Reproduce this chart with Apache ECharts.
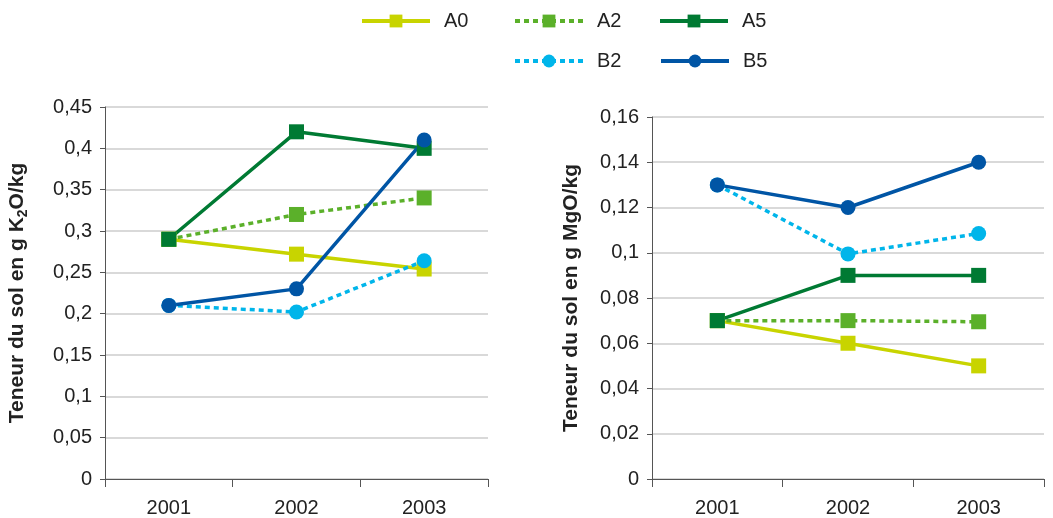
<!DOCTYPE html>
<html><head><meta charset="utf-8">
<script src="https://cdn.jsdelivr.net/npm/echarts@6/dist/echarts.min.js"></script>
<style>html,body{margin:0;padding:0;background:#fff}#c{width:1053px;height:518px}</style>
</head><body><div id="c"></div>
<script>
const years = ['2001', '2002', '2003'];
const seriesNames = ['A0', 'A2', 'A5', 'B2', 'B5'];
// K2O (left chart)
const k2oA0 = [0.29, 0.272, 0.254];
const k2oA2 = [0.29, 0.32, 0.34];
const k2oA5 = [0.29, 0.42, 0.40];
const k2oB2 = [0.21, 0.202, 0.264];
const k2oB5 = [0.21, 0.23, 0.41];
// MgO (right chart)
const mgoA0 = [0.07, 0.06, 0.05];
const mgoA2 = [0.07, 0.07, 0.0695];
const mgoA5 = [0.07, 0.09, 0.09];
const mgoB2 = [0.13, 0.0995, 0.1085];
const mgoB5 = [0.13, 0.12, 0.14];

const styles = {
  A0: {color: '#c8d400', symbol: 'rect', dash: 'solid'},
  A2: {color: '#5bb02a', symbol: 'rect', dash: [5, 4]},
  A5: {color: '#007a33', symbol: 'rect', dash: 'solid'},
  B2: {color: '#00b5ea', symbol: 'circle', dash: [5, 4]},
  B5: {color: '#0055a5', symbol: 'circle', dash: 'solid'}
};
const k2o = {A0: k2oA0, A2: k2oA2, A5: k2oA5, B2: k2oB2, B5: k2oB5};
const mgo = {A0: mgoA0, A2: mgoA2, A5: mgoA5, B2: mgoB2, B5: mgoB5};

function mk(name, data, idx) {
  const s = styles[name];
  return {
    name, type: 'line', xAxisIndex: idx, yAxisIndex: idx, data,
    symbol: s.symbol, symbolSize: 15,
    itemStyle: {color: s.color},
    lineStyle: {color: s.color, width: 3.5, type: s.dash},
    animation: false
  };
}
const series = [];
seriesNames.forEach(n => series.push(mk(n, k2o[n], 0)));
seriesNames.forEach(n => series.push(mk(n, mgo[n], 1)));

const FF = 'Liberation Sans, Arial, sans-serif';
const fmt = v => (+v.toFixed(2)).toString().replace('.', ',');
const txt = '#222';
function xAx(gi) {
  return {
    type: 'category', gridIndex: gi, data: years, boundaryGap: true,
    axisLine: {lineStyle: {color: '#555', width: 1}},
    axisTick: {show: true, length: 8, lineStyle: {color: '#555'}},
    axisLabel: {color: txt, fontSize: 20, margin: 19, fontFamily: FF}
  };
}
const nameRich = {
  a: {fontSize: 21, fontWeight: 'bold', color: txt, fontFamily: FF, lineHeight: 26, verticalAlign: 'middle'},
  s: {fontSize: 14, fontWeight: 'bold', color: txt, fontFamily: FF, lineHeight: 26, verticalAlign: 'bottom'}
};
function yAx(gi, max, interval, name, gap) {
  return {
    type: 'value', gridIndex: gi, min: 0, max, interval,
    name, nameLocation: 'middle', nameRotate: 90, nameGap: gap,
    nameTextStyle: {color: txt, fontSize: 21, fontWeight: 'bold', fontFamily: FF, rich: nameRich},
    axisLine: {show: true, lineStyle: {color: '#555', width: 1}},
    axisTick: {show: true, length: 5, lineStyle: {color: '#555'}},
    axisLabel: {color: txt, fontSize: 20, margin: 13, formatter: fmt, fontFamily: FF},
    splitLine: {lineStyle: {color: '#d9d9d9', width: 2}}
  };
}
function leg(name, left, top) {
  return {
    data: [name], left, top, padding: 0, itemWidth: 68, itemHeight: 16, itemGap: 0,
    lineStyle: {width: 4},
    textStyle: {color: txt, fontSize: 20, fontFamily: FF, padding: [0, 0, 0, 9]}
  };
}
const chart = echarts.init(document.getElementById('c'), null, {renderer: 'canvas'});
chart.setOption({
  backgroundColor: '#fff',
  animation: false,
  legend: [
    leg('A0', 360, 11), leg('A2', 513, 11), leg('A5', 658, 11),
    leg('B2', 513, 51), leg('B5', 659, 51)
  ],
  grid: [
    {left: 105, right: 565, top: 107, bottom: 38},
    {left: 652, right: 9, top: 117, bottom: 39}
  ],
  xAxis: [xAx(0), xAx(1)],
  yAxis: [
    yAx(0, 0.45, 0.05, '{a|Teneur du sol en g K}{s|2}{a|O/kg}', 75),
    yAx(1, 0.16, 0.02, '{a|Teneur du sol en g MgO/kg}', 68)
  ],
  series
});
</script></body></html>
